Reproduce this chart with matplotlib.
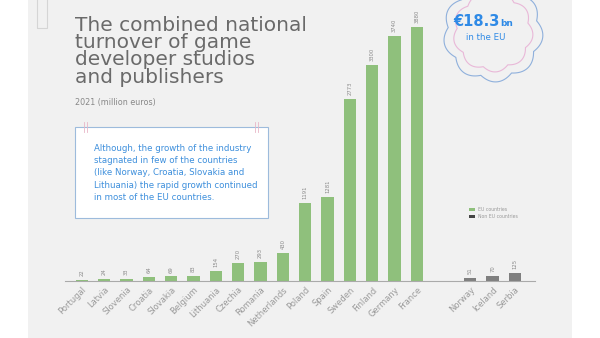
import numpy as np
import matplotlib.pyplot as plt
from matplotlib.patches import Rectangle, Polygon

# data (million euros, 2021)
eu_countries = ["Portugal", "Latvia", "Slovenia", "Croatia", "Slovakia", "Belgium",
                "Lithuania", "Czechia", "Romania", "Netherlands", "Poland", "Spain",
                "Sweden", "Finland", "Germany", "France"]
eu_values = [22, 24, 33, 64, 69, 83, 154, 270, 293, 430, 1191, 1281, 2773, 3300, 3740, 3880]
non_eu_countries = ["Norway", "Iceland", "Serbia"]
non_eu_values = [51, 70, 125]

green = "#8fc07c"
dark = "#7f7f7f"
grey_txt = "#8a8a8a"
blue = "#3d8fdc"

fig = plt.figure(figsize=(6, 3.38), dpi=100)
fig.patch.set_facecolor("white")
# grey page background
fig.patches.append(Rectangle((28 / 600, 0), 544 / 600, 1, transform=fig.transFigure,
                             facecolor="#f1f1f1", edgecolor="none", zorder=-2))
fig.patches.append(Rectangle((37 / 600, 1 - 28 / 338), 10 / 600, 30 / 338, transform=fig.transFigure,
                             facecolor="none", edgecolor="#d5d5d5", lw=0.8, zorder=-1))

ax = fig.add_axes([65 / 600, 1 - 281 / 338, 470 / 600, 262 / 338])
ax.set_facecolor("none")

x_eu = np.arange(len(eu_values))
x_non = np.arange(len(non_eu_values)) + 17.4
ax.bar(x_eu, eu_values, width=0.55, color=green, zorder=2)
ax.bar(x_non, non_eu_values, width=0.55, color=dark, zorder=2)

for xs, vals in ((x_eu, eu_values), (x_non, non_eu_values)):
    for xi, v in zip(xs, vals):
        ax.text(xi, v + 60, str(v), rotation=90, ha="center", va="bottom",
                fontsize=3.8, color=grey_txt)

ax.set_xlim(-0.76, 20.3)
ax.set_ylim(0, 4000)
ax.set_xticks(list(x_eu) + list(x_non))
ax.set_xticklabels(eu_countries + non_eu_countries, rotation=45, ha="right",
                   rotation_mode="anchor", fontsize=6, color="#9a9a9a")
ax.tick_params(axis="x", length=0, pad=3)
ax.set_yticks([])
for s in ["top", "right", "left"]:
    ax.spines[s].set_visible(False)
ax.spines["bottom"].set_color("#aaaaaa")
ax.spines["bottom"].set_linewidth(0.8)

# legend
fig.patches.append(Rectangle((469 / 600, 1 - 211 / 338), 6 / 600, 3 / 338, transform=fig.transFigure,
                             facecolor=green, edgecolor="none"))
fig.patches.append(Rectangle((469 / 600, 1 - 218 / 338), 6 / 600, 3 / 338, transform=fig.transFigure,
                             facecolor="#444444", edgecolor="none"))
fig.text(478 / 600, 1 - 209.5 / 338, "EU countries", fontsize=3.3, color="#999999", va="center")
fig.text(478 / 600, 1 - 216.5 / 338, "Non EU countries", fontsize=3.3, color="#999999", va="center")

# title
fig.text(75 / 600, 1 - 16 / 338, "The combined national\nturnover of game\ndeveloper studios\nand publishers",
         fontsize=14.5, color="#6a6a6a", va="top", ha="left", linespacing=0.88)
fig.text(75 / 600, 1 - 103 / 338, "2021 (million euros)", fontsize=5.8, color="#888888", va="center")

# note box
fig.patches.append(Rectangle((75 / 600, 1 - 218 / 338), 193 / 600, 91 / 338, transform=fig.transFigure,
                             facecolor="white", edgecolor="#9dbbdc", lw=0.8, zorder=1))
for xm in (84, 255):
    for dx in (0, 2.5):
        fig.lines.append(plt.Line2D([(xm + dx) / 600] * 2, [1 - 132 / 338, 1 - 122 / 338],
                                    transform=fig.transFigure, color="#e8b7c8", lw=0.6))
fig.text(94 / 600, 1 - 173 / 338,
         "Although, the growth of the industry\nstagnated in few of the countries\n"
         "(like Norway, Croatia, Slovakia and\nLithuania) the rapid growth continued\n"
         "in most of the EU countries.",
         fontsize=6.2, color=blue, va="center", ha="left", linespacing=1.45, zorder=3)

# scalloped badge
cx, cy = 493, 32
t = np.linspace(0, 2 * np.pi, 800)
for r0, amp, col in ((45, 5, "#8fb0dc"), (36, 4, "#e9b8d8")):
    r = r0 + amp * np.abs(np.sin(4.5 * (t + 0.25)))
    px = (cx + r * np.cos(t)) / 600
    py = 1 - (cy + r * np.sin(t)) / 338
    fig.patches.append(Polygon(np.column_stack([px, py]), closed=True, transform=fig.transFigure,
                               facecolor="none", edgecolor=col, lw=0.8))
fig.text(500 / 600, 1 - 22 / 338, "€18.3", fontsize=10.5, fontweight="bold", color="#2f8ae6",
         ha="right", va="center")
fig.text(500 / 600, 1 - 23.5 / 338, "bn", fontsize=6.5, fontweight="bold", color="#2f8ae6",
         ha="left", va="center")
fig.text(486 / 600, 1 - 38 / 338, "in the EU", fontsize=6.2, color="#2f8ae6", ha="center", va="center")

fig.savefig("out.png", dpi=100)
